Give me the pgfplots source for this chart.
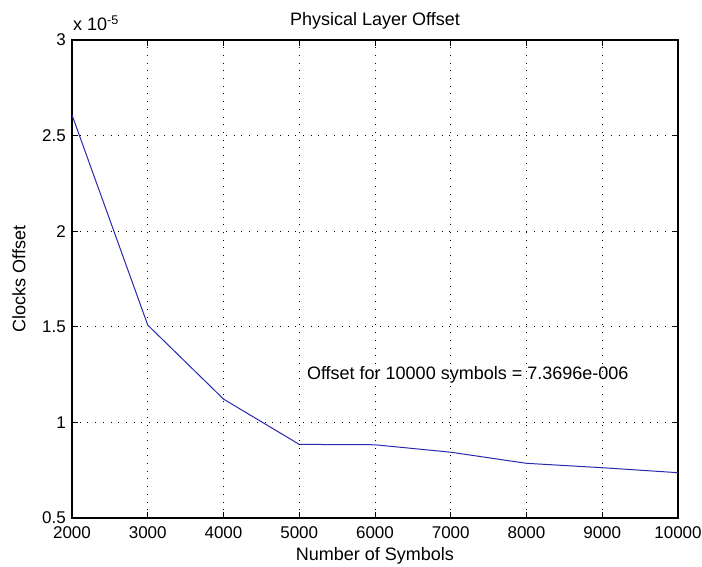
\documentclass[border=0pt]{standalone}
\usepackage{pgfplots}
\pgfplotsset{compat=1.18}
\usepackage{fontspec}
\setmainfont{Liberation Sans}

\begin{document}
\fontsize{18}{21}\selectfont
\begin{tikzpicture}
  % plot area lower left corner sits at (0,0)
  \useasboundingbox (-72pt,-49pt) rectangle (630pt,518pt);
  \begin{axis}[
      anchor=south west,
      at={(0,0)},
      scale only axis,
      width=606pt,
      height=478pt,
      clip=false,
      xmin=2000, xmax=10000,
      ymin=0.5, ymax=3,
      xtick={2000,3000,...,10000},
      ytick={0.5,1,...,3},
      scaled x ticks=false,
      scaled y ticks=false,
      /pgf/number format/assume math mode=true,
      tick label style={font=\fontsize{17}{20}\selectfont},
      xticklabel style={/pgf/number format/1000 sep={}, yshift=-2pt},
      tick align=inside,
      major tick length=6pt,
      tick style={black, line width=0.9pt},
      axis line style={black, line width=1.1pt},
      grid=major,
      major grid style={black, line width=0.8pt, dash pattern=on 1pt off 6.7pt},
      title={Physical Layer Offset},
      title style={at={(axis description cs:0.5,1)}, anchor=center, yshift=13pt},
      xlabel={Number of Symbols},
      xlabel style={at={(axis description cs:0.5,0)}, anchor=center, yshift=-38pt},
      ylabel={Clocks Offset},
      % default style already rotates by 90, so yshift points to the left
      ylabel style={at={(axis description cs:0,0.5)}, anchor=center, yshift=53pt},
    ]
    \addplot[color={rgb,255:red,40;green,40;blue,175}, line width=1pt, mark=none] coordinates {
      (2000,2.608) (3000,1.509) (4000,1.122) (5000,0.885) (6000,0.883)
      (7000,0.844) (8000,0.786) (9000,0.763) (10000,0.737)
    };
    \node[anchor=west, inner sep=0pt] at (axis cs:5100,1.248)
      {Offset for 10000 symbols = 7.3696e-006};
    \node[anchor=south west, inner sep=0pt, xshift=1pt, yshift=9pt]
      at (rel axis cs:0,1) {x 10\textsuperscript{-5}};
  \end{axis}
\end{tikzpicture}
\end{document}
